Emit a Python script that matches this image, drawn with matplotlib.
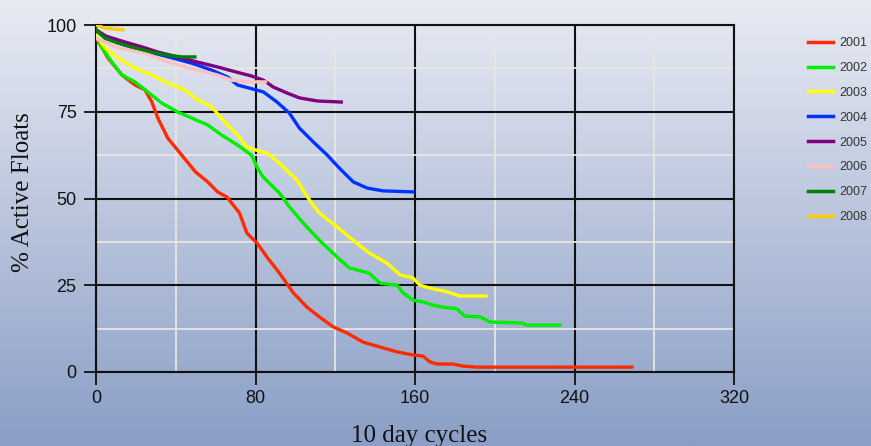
import numpy as np
import matplotlib
matplotlib.use("Agg")
import matplotlib.pyplot as plt
from matplotlib.ticker import MultipleLocator

years = ["2001", "2002", "2003", "2004", "2005", "2006", "2007", "2008"]
colors = ["#ff2a00", "#00ee00", "#ffff00", "#0033ff", "#800080", "#ffc0c0", "#008000", "#ffcc00"]

x2001 = [0, 3, 6, 13, 19.6, 24.6, 28, 31, 36, 43, 50, 56, 61, 65.7, 72, 75.7, 80.7, 85.8, 92, 99, 105.8,
         112, 119, 126, 134, 142.4, 151, 159, 164, 167.5, 171, 179, 184, 191, 268.8]
y2001 = [96.2, 93.5, 90.5, 85.6, 82.7, 81.3, 77.8, 73.2, 67.4, 62.5, 57.6, 54.8, 51.9, 50.4, 45.8, 40, 37.2,
         33.1, 28.5, 22.8, 18.7, 15.9, 13, 11.2, 8.6, 7.2, 5.8, 4.9, 4.6, 2.9, 2.3, 2.3, 1.7, 1.4, 1.4]

x2002 = [0, 3, 8, 13, 19.6, 26, 33, 41, 48, 56, 63, 71, 78, 81, 83.8, 92, 97, 104, 112, 121, 127, 137,
         142.4, 151, 154, 159, 164, 169, 174, 181, 185, 192.6, 197.6, 214, 216, 232.7]
y2002 = [97, 93.4, 89.3, 85.6, 83.6, 80.7, 77.5, 74.9, 73.2, 71.2, 68.3, 65.4, 62.5, 58.8, 56.2, 51.6, 47.6,
         42.9, 38, 33.1, 30, 28.5, 25.6, 25, 22.8, 20.7, 20.2, 19.3, 18.7, 18.2, 16.1, 15.9, 14.4, 14.1, 13.5, 13.5]

x2003 = [0, 4.5, 11, 19.6, 28, 36, 44.6, 51, 58, 64.7, 71, 75.7, 80, 85.8, 92, 100.8, 107, 112, 121, 129,
         137, 146, 152.5, 159, 162.5, 167.5, 176, 182.5, 195.6]
y2003 = [97, 93.4, 90.5, 87.6, 85.6, 83.3, 81.3, 78.4, 76.4, 72, 68.3, 64.8, 64, 63.1, 60.2, 55.3, 49.6,
         45.8, 41.8, 38, 34.3, 31.4, 28, 27.1, 25, 24.2, 23.1, 21.9, 21.9]

x2004 = [0, 4.5, 14.5, 25, 35, 48, 58, 66, 71, 77, 84, 90.8, 97, 102, 109, 116, 122, 129, 136, 144, 159]
y2004 = [98.6, 96.3, 94.2, 92.5, 91, 89, 87, 85, 82.7, 81.8, 80.7, 77.8, 74.6, 70.3, 66.3, 62.5, 58.8,
         54.8, 53, 52.2, 51.9]

x2005 = [0, 5, 14.5, 23, 31, 41, 51, 61, 70, 78, 84, 89, 95.8, 102, 111, 123]
y2005 = [98.6, 96.8, 95.1, 93.7, 92.2, 90.8, 89.3, 87.9, 86.5, 85.3, 84.1, 82.1, 80.4, 79, 78.1, 77.8]

x2006 = [0, 11, 24.6, 33, 41, 51, 61, 68, 78, 85]
y2006 = [96.2, 93.4, 91.9, 89.9, 88.5, 87, 85.6, 84.1, 83.6, 83.6]

x2007 = [0, 4.5, 11, 19.6, 28, 34.6, 43, 49.6]
y2007 = [98.6, 96.2, 94.8, 93.4, 92.2, 91.4, 90.8, 90.8]

x2008 = [0, 4.5, 13.5]
y2008 = [100, 99.1, 98.6]

xs = [x2001, x2002, x2003, x2004, x2005, x2006, x2007, x2008]
ys = [y2001, y2002, y2003, y2004, y2005, y2006, y2007, y2008]

x_ticks = [0, 80, 160, 240, 320]
y_ticks = [0, 25, 50, 75, 100]

fig = plt.figure(figsize=(8.71, 4.46), dpi=100)

# gradient background
bg = fig.add_axes([0, 0, 1, 1], zorder=-10)
top = np.array([232, 235, 243]) / 255.0
bot = np.array([138, 158, 198]) / 255.0
t = np.linspace(0, 1, 256)[:, None]
grad = top[None, :] * (1 - t) + bot[None, :] * t
bg.imshow(grad[:, None, :], aspect="auto", extent=[0, 1, 0, 1])
bg.axis("off")

ax = fig.add_axes([96 / 871, 1 - 372 / 446, (734 - 96) / 871, (372 - 25) / 446])
ax.patch.set_alpha(0)

# minor grid
ax.xaxis.set_minor_locator(MultipleLocator(40))
ax.yaxis.set_minor_locator(MultipleLocator(12.5))
ax.grid(which="minor", color="#e8e6e0", lw=1.3, zorder=0)
ax.grid(which="major", color="#111111", lw=1.5, zorder=1)

for xv, yv, c, lab in zip(xs, ys, colors, years):
    ax.plot(xv, yv, color=c, lw=2.4, label=lab, zorder=3, solid_joinstyle="round")

ax.set_xlim(0, 320)
ax.set_ylim(0, 100)
ax.set_xticks(x_ticks)
ax.set_yticks(y_ticks)
ax.tick_params(which="major", direction="out", length=9, width=1.3, color="#111111",
               labelsize=13, labelcolor="#111111")
ax.tick_params(axis="y", pad=5)
ax.tick_params(axis="x", pad=4)
ax.tick_params(which="minor", length=0)
for lbl in ax.get_xticklabels() + ax.get_yticklabels():
    lbl.set_family(["Liberation Sans", "DejaVu Sans"])
for s in ax.spines.values():
    s.set_color("#111111")
    s.set_linewidth(1.5)

fig.text(419 / 871, 1 - 436 / 446, "10 day cycles", ha="center", va="center",
         family=["Liberation Serif", "DejaVu Serif"], fontsize=18, color="#111111")
fig.text(23 / 871, 1 - 192 / 446, "% Active Floats", ha="center", va="center", rotation=90,
         family=["Liberation Serif", "DejaVu Serif"], fontsize=18, color="#111111")

leg = fig.legend(loc="upper left", bbox_to_anchor=(803 / 871, 1 - 32 / 446), frameon=False,
                 handlelength=2.0, labelspacing=1.03, handletextpad=0.5, borderaxespad=0,
                 prop={"family": ["Liberation Sans", "DejaVu Sans"], "size": 9})
for txt in leg.get_texts():
    txt.set_color("#333333")
for h in leg.legend_handles:
    h.set_linewidth(2.5)

fig.savefig("out.png", dpi=100)
